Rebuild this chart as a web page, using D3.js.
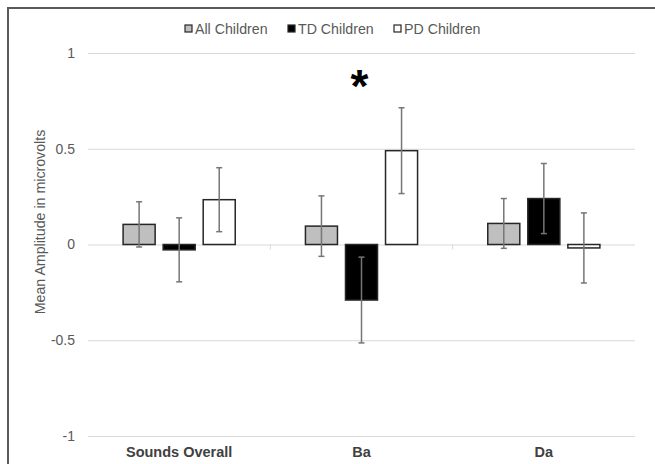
<!DOCTYPE html>
<html>
<head>
<meta charset="utf-8">
<script src="https://cdn.jsdelivr.net/npm/d3@7"></script>
<style>
  body { margin: 0; background: #fff; }
  svg { display: block; font-family: "Liberation Sans", Arial, sans-serif; }
</style>
</head>
<body>
<svg id="chart" width="655" height="464"></svg>
<script>
// chart values
var categories = ["Sounds Overall", "Ba", "Da"];
var groups = ["All Children", "TD Children", "PD Children"];
var groupColors = ["#bfbfbf", "#000000", "#ffffff"];
var allChildren = [0.105, 0.096, 0.11];
var allChildrenErr = [0.118, 0.158, 0.13];
var tdChildren = [-0.028, -0.29, 0.24];
var tdChildrenErr = [0.167, 0.224, 0.183];
var pdChildren = [0.234, 0.49, -0.018];
var pdChildrenErr = [0.167, 0.224, 0.183];
var yTicks = [-1, -0.5, 0, 0.5, 1];
var significant = ["Ba"];

var means = [allChildren, tdChildren, pdChildren];
var errs = [allChildrenErr, tdChildrenErr, pdChildrenErr];

var rows = [];
categories.forEach(function (c, i) {
    groups.forEach(function (g, j) {
        rows.push({ cat: c, group: g, value: means[j][i], err: errs[j][i], color: groupColors[j] });
    });
});

var svg = d3.select("#chart");
// note: "top" is taken by window.top, so plot edges get their own names
var plotLeft = 88, plotRight = 635, plotTop = 53, plotBottom = 436;

var x0 = d3.scaleBand().domain(categories).range([plotLeft, plotRight])
    .paddingInner(0.385).paddingOuter(0.1925);
var x1 = d3.scaleBand().domain(groups).range([0, x0.bandwidth()]).paddingInner(0.2);
var y = d3.scaleLinear().domain([-1, 1]).range([plotBottom, plotTop]);

// outer frame
svg.append("path")
    .attr("d", "M8,464 L8,8 L655,8")
    .attr("fill", "none").attr("stroke", "#5a5a5a").attr("stroke-width", 2);

// gridlines + y labels (plain hyphen for negatives, like the original)
var yAxis = d3.axisLeft(y).tickValues(yTicks).tickSize(-(plotRight - plotLeft)).tickPadding(13)
    .tickFormat(function (d) { return String(d); });
var ga = svg.append("g").attr("transform", "translate(" + plotLeft + ",0)").call(yAxis);
ga.select(".domain").remove();
ga.selectAll(".tick line").attr("stroke", "#d9d9d9").attr("stroke-width", 1.2);
ga.selectAll(".tick text").attr("fill", "#595959").attr("font-size", 14)
    .attr("font-family", "Liberation Sans, Arial, sans-serif");

// category ticks on the zero line
var bounds = categories.slice(1).map(function (c) { return x0(c) - x0.step() * x0.paddingInner() / 2; });
svg.selectAll(".cattick").data(bounds).enter().append("line")
    .attr("x1", function (d) { return d; }).attr("x2", function (d) { return d; })
    .attr("y1", y(0)).attr("y2", y(0) + 5)
    .attr("stroke", "#d9d9d9").attr("stroke-width", 1);

// bars
var bars = svg.append("g");
bars.selectAll("rect").data(rows).enter().append("rect")
    .attr("x", function (d) { return x0(d.cat) + x1(d.group); })
    .attr("width", x1.bandwidth())
    .attr("y", function (d) { return y(Math.max(0, d.value)); })
    .attr("height", function (d) { return Math.abs(y(d.value) - y(0)); })
    .attr("fill", function (d) { return d.color; })
    .attr("stroke", "#262626").attr("stroke-width", 1.5);

// error bars
var eb = svg.append("g").attr("stroke", "#767676").attr("stroke-width", 1.5);
rows.forEach(function (d) {
    var cx = x0(d.cat) + x1(d.group) + x1.bandwidth() / 2;
    var y1 = y(d.value + d.err), y2 = y(d.value - d.err);
    eb.append("line").attr("x1", cx).attr("x2", cx).attr("y1", y1).attr("y2", y2);
    eb.append("line").attr("x1", cx - 3).attr("x2", cx + 3).attr("y1", y1).attr("y2", y1);
    eb.append("line").attr("x1", cx - 3).attr("x2", cx + 3).attr("y1", y2).attr("y2", y2);
});

// significance marker
svg.selectAll(".star").data(significant).enter().append("text")
    .attr("x", function (d) { return x0(d) + x0.bandwidth() / 2 - 2; })
    .attr("y", 102)
    .attr("text-anchor", "middle")
    .attr("font-size", 46).attr("font-weight", "bold").attr("fill", "#000")
    .text("*");

// category labels
svg.selectAll(".cat").data(categories).enter().append("text")
    .attr("x", function (d) { return x0(d) + x0.bandwidth() / 2; })
    .attr("y", 457)
    .attr("text-anchor", "middle")
    .attr("font-size", 14.5).attr("font-weight", "bold").attr("fill", "#404040")
    .text(function (d) { return d; });

// y axis title
svg.append("text")
    .attr("transform", "translate(45,222) rotate(-90)")
    .attr("text-anchor", "middle")
    .attr("font-size", 14.2).attr("fill", "#595959")
    .text("Mean Amplitude in microvolts");

// legend
var legendX = [185, 288, 394];
var leg = svg.selectAll(".leg").data(groups).enter().append("g")
    .attr("transform", function (d, i) { return "translate(" + legendX[i] + ",25)"; });
leg.append("rect").attr("width", 7).attr("height", 7)
    .attr("fill", function (d, i) { return groupColors[i]; })
    .attr("stroke", "#262626").attr("stroke-width", 1.2);
leg.append("text").attr("x", 10).attr("y", 9)
    .attr("font-size", 14.2).attr("fill", "#595959")
    .text(function (d) { return d; });
</script>
</body>
</html>
